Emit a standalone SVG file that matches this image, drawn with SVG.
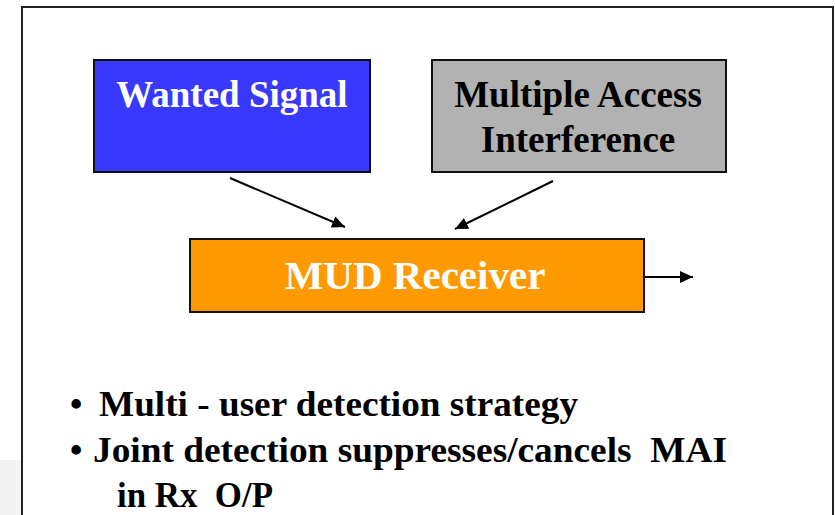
<svg xmlns="http://www.w3.org/2000/svg" width="835" height="515" viewBox="0 0 835 515">
  <defs>
    <marker id="arrow" markerUnits="userSpaceOnUse" markerWidth="14" markerHeight="12" refX="13" refY="6" orient="auto">
      <path d="M0,0 L13,6 L0,12 Z" fill="#000"/>
    </marker>
  </defs>
  <style>
    .box { stroke: #111; stroke-width: 2; }
    .lbl { font-family: "Liberation Serif", "Times New Roman", serif; font-weight: bold; text-anchor: middle; }
    .bul { font-family: "Liberation Serif", "Times New Roman", serif; font-weight: bold; font-size: 35px; fill: #000; }
    .conn { stroke: #000; stroke-width: 2; fill: none; marker-end: url(#arrow); }
  </style>
  <rect x="0" y="0" width="835" height="515" fill="#fff"/>
  <rect x="0" y="460" width="21" height="55" fill="#f3f3f3"/>
  <rect x="22" y="7" width="811" height="530" fill="#fff" stroke="#222" stroke-width="2"/>

  <g id="wanted-signal">
    <rect class="box" x="94" y="60" width="276" height="112" fill="#3838FF"/>
    <text class="lbl" x="232" y="107" font-size="37" fill="#fff">Wanted Signal</text>
  </g>

  <g id="mai">
    <rect class="box" x="432" y="60" width="294" height="112" fill="#B2B2B2"/>
    <text class="lbl" x="578" y="107" font-size="37" fill="#000">Multiple Access</text>
    <text class="lbl" x="578" y="152" font-size="37" fill="#000">Interference</text>
  </g>

  <g id="mud-receiver">
    <rect class="box" x="190" y="239" width="454" height="73" fill="#FF9900"/>
    <text class="lbl" x="415" y="289" font-size="41" fill="#fff">MUD Receiver</text>
  </g>

  <g id="connectors">
    <line class="conn" x1="230" y1="178" x2="345" y2="227"/>
    <line class="conn" x1="553" y1="181" x2="455" y2="229"/>
    <line class="conn" x1="645" y1="277" x2="693" y2="277"/>
  </g>

  <g id="bullets">
    <text class="bul" x="70" y="416">•</text>
    <text class="bul" x="99" y="416" textLength="479" lengthAdjust="spacingAndGlyphs">Multi - user detection strategy</text>
    <text class="bul" x="70" y="462">•</text>
    <text class="bul" x="93" y="462" textLength="634" lengthAdjust="spacingAndGlyphs" xml:space="preserve">Joint detection suppresses/cancels  MAI</text>
    <text class="bul" x="117" y="507" textLength="156" lengthAdjust="spacingAndGlyphs" xml:space="preserve">in Rx  O/P</text>
  </g>
</svg>
